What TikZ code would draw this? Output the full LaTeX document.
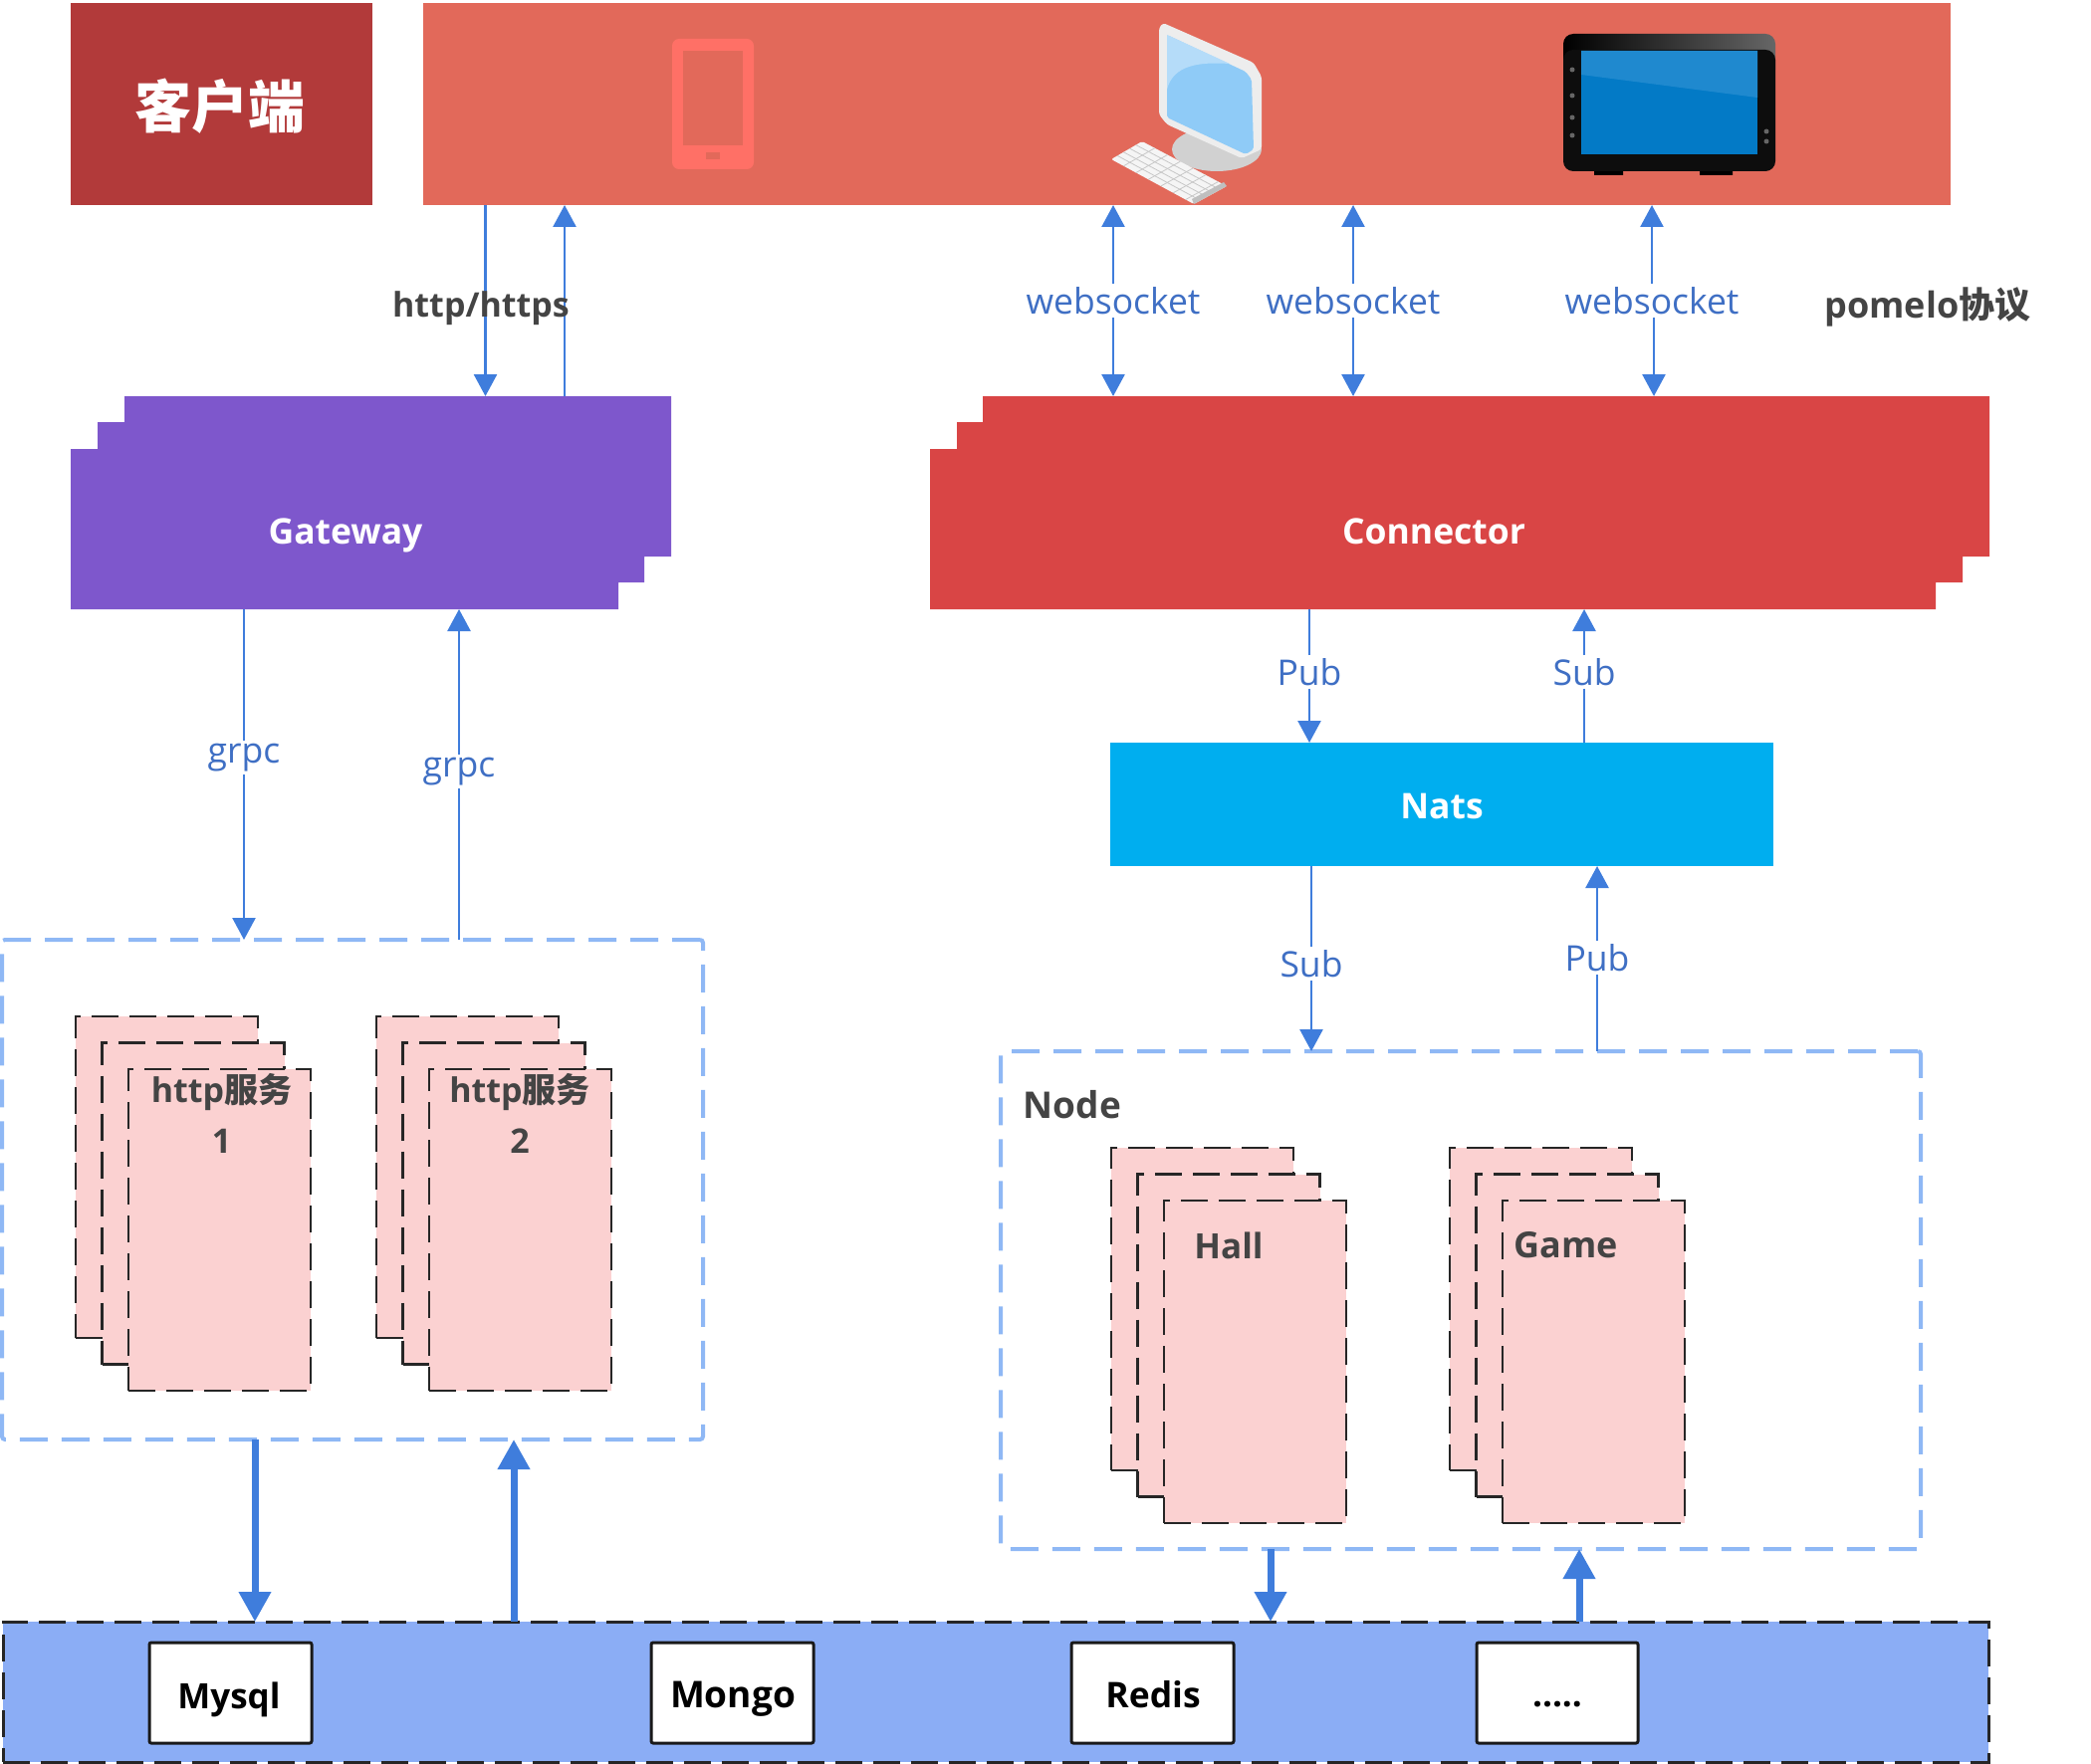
\documentclass[tikz,border=0pt]{standalone}
\usepackage{fontspec}
\setmainfont{Open Sans}
\newfontfamily\cjk{Noto Sans CJK SC}
\usetikzlibrary{arrows.meta,calc}
\definecolor{bluearrow}{HTML}{3F7DDC}
\definecolor{bluedash}{HTML}{8FB8F5}
\definecolor{bluetxt}{HTML}{3F6FC4}
\definecolor{band}{HTML}{8BADF5}
\definecolor{pinkbox}{HTML}{FBD1D1}
\definecolor{clientdark}{HTML}{B23A3A}
\definecolor{clientbar}{HTML}{E2695A}
\definecolor{gatewayc}{HTML}{7E57CC}
\definecolor{connectorc}{HTML}{D94545}
\definecolor{natsc}{HTML}{00AEEF}
\definecolor{darktxt}{HTML}{444444}
\definecolor{phonec}{HTML}{FF7066}
\definecolor{screenlight}{HTML}{8FCBF7}
\definecolor{screentop}{HTML}{B5DCF9}
\definecolor{tabletblue}{HTML}{037AC6}
\definecolor{tabletlight}{HTML}{1F89CF}
\tikzset{
  x=1pt,y=-1pt,
  arr/.style={draw=bluearrow,line width=2.6pt,-{Triangle[length=22pt,width=23pt]}},
  plainline/.style={draw=bluearrow,line width=2.6pt},
  thick arr/.style={draw=bluearrow,line width=7pt,-{Triangle[length=30pt,width=31pt]}},
  blk/.style={rectangle,inner sep=0pt,outer sep=0pt,anchor=north west},
  dashbox/.style={blk,draw=bluedash,line width=4pt,dash pattern=on 28pt off 14pt,rounded corners=3pt},
  sheet/.style={blk,fill=pinkbox,draw=black!85,line width=2.6pt,dash pattern=on 27pt off 11pt},
  store/.style={blk,fill=white,draw=black!90,line width=3pt,rounded corners=2pt},
  lab/.style={fill=white,text=bluetxt,inner sep=3pt,font=\fontsize{35.5}{40}\selectfont},
  dark/.style={text=darktxt,inner sep=0pt,font=\fontsize{#1}{51}\selectfont\bfseries,align=center},
  onfill/.style={text=white,inner sep=0pt,font=\fontsize{35.5}{40}\selectfont\bfseries},
  storetxt/.style={text=black,inner sep=0pt,font=\fontsize{#1}{40}\selectfont\bfseries},
}
\newcommand{\sheetstack}[5]{% name, x, y, w, h
  \node[sheet,minimum width=#4pt,minimum height=#5pt] (#1a) at (#2,#3) {};
  \node[sheet,minimum width=#4pt,minimum height=#5pt] (#1b) at ($(#2,#3)+(26.5,26.5)$) {};
  \node[sheet,minimum width=#4pt,minimum height=#5pt] (#1c) at ($(#2,#3)+(53,53)$) {};
}
\begin{document}
\begin{tikzpicture}
\useasboundingbox (0,0) rectangle (2100,1771);
% client row
\node[blk,fill=clientdark,minimum width=303pt,minimum height=203pt,text=white] (client) at (71,3) {};
\node[text=white,inner sep=0pt,font=\cjk\fontsize{57}{60}\selectfont\bfseries] (clienttxt) at (221,107) {客户端};
\node[blk,fill=clientbar,minimum width=1534pt,minimum height=203pt] (bar) at (425,3) {};
% phone
\fill[phonec,rounded corners=7pt] (675,39) rectangle (757,170);
\fill[clientbar] (686,51) rectangle (746,146);
\fill[clientbar] (709,153) rectangle (723,160);
% monitor
\fill[black!18] (1222,150) ellipse (45 and 22);
\fill[black!7,rounded corners=3pt] (1168,23) -- (1259,63) -- (1267,77) -- (1267,150) -- (1247,159) -- (1172,125) -- (1164,115) -- (1164,28) -- cycle;
\fill[screenlight,rounded corners=2pt] (1172,35) -- (1251,72) -- (1257,80) -- (1259,150) -- (1251,155) -- (1172,118) -- cycle;
\fill[screentop] (1172,35) -- (1235,64) .. controls (1205,62) and (1178,65) .. (1172,90) -- cycle;
\fill[black!4,rounded corners=2pt] (1147,142) -- (1232,187) -- (1199,205) -- (1116,160) -- cycle;
\foreach \tt in {0.2,0.4,0.6,0.8}
  \draw[black!22,line width=0.8pt] ($(1147,142)!\tt!(1116,160)$) -- ($(1232,187)!\tt!(1199,205)$);
\foreach \tt in {0.15,0.3,0.45,0.6,0.75,0.9}
  \draw[black!22,line width=0.8pt] ($(1147,142)!\tt!(1232,187)$) -- ($(1116,160)!\tt!(1199,205)$);
\fill[black!25] (1232,187) -- (1199,205) -- (1197,200) -- (1229,183) -- cycle;
% tablet
\fill[black] (1601,170) rectangle (1630,176) (1707,170) rectangle (1740,176);
\shade[left color=black,right color=black!60,rounded corners=10pt] (1570,34) rectangle (1783,80);
\fill[black!95,rounded corners=10pt] (1570,50) rectangle (1783,172);
\fill[tabletblue] (1588,51) rectangle (1765,155);
\fill[tabletlight] (1588,51) -- (1765,51) -- (1765,98) -- (1588,75) -- cycle;
\foreach \yy in {70,96,118,136} \fill[black!60] (1579,\yy) circle (2.5);
\foreach \yy in {132,142} \fill[black!60] (1774,\yy) circle (2.5);
% gateway and connector stepped shapes
\fill[gatewayc] (125,398) -- (674,398) -- (674,559) -- (647,559) -- (647,585) -- (621,585) -- (621,612) -- (71,612) -- (71,451) -- (98,451) -- (98,424) -- (125,424) -- cycle;
\node[blk,minimum width=603pt,minimum height=214pt] (gw) at (71,398) {};
\node[onfill] (gwtxt) at (347,538) {Gateway};
\fill[connectorc] (987,398) -- (1998,398) -- (1998,559) -- (1971,559) -- (1971,585) -- (1944,585) -- (1944,612) -- (934,612) -- (934,451) -- (961,451) -- (961,424) -- (987,424) -- cycle;
\node[blk,minimum width=1064pt,minimum height=214pt] (conn) at (934,398) {};
\node[onfill] (conntxt) at (1440,534) {Connector};
% nats
\node[blk,fill=natsc,minimum width=666pt,minimum height=124pt] (nats) at (1115,746) {};
\node[onfill] (natstxt) at (1448,810) {Nats};
% dashed groups
\node[dashbox,minimum width=704pt,minimum height=502pt] (httpgrp) at (2,944) {};
\node[dashbox,minimum width=924pt,minimum height=500pt] (nodegrp) at (1005,1056) {};
% sheets
\sheetstack{ha}{76}{1021}{183}{323}
\sheetstack{hb}{378}{1021}{183}{323}
\sheetstack{hall}{1116}{1153}{183}{324}
\sheetstack{game}{1456}{1153}{183}{324}
\node[dark=34] (hatxt) at (222.5,1118) {http{\cjk 服务}\\1};
\node[dark=34] (hbtxt) at (522,1118) {http{\cjk 服务}\\2};
\node[dark=35] (halltxt) at (1234,1251) {Hall};
\node[dark=36] (gametxt) at (1573,1251) {Game};
\node[dark=37] (nodetxt) at (1077,1110) {Node};
% storage band
\node[blk,fill=band,draw=black!85,line width=3pt,dash pattern=on 27pt off 11pt,minimum width=1994pt,minimum height=141pt] (stor) at (3,1629) {};
\node[store,minimum width=163pt,minimum height=101pt] (mysql) at (150,1650) {};
\node[store,minimum width=163pt,minimum height=101pt] (mongo) at (654,1650) {};
\node[store,minimum width=163pt,minimum height=101pt] (redis) at (1076,1650) {};
\node[store,minimum width=162pt,minimum height=101pt] (more) at (1483,1650) {};
\node[storetxt=35] (mysqltxt) at (230,1707) {Mysql};
\node[storetxt=37] (mongotxt) at (736,1707) {Mongo};
\node[storetxt=35.5] (redistxt) at (1158,1702) {Redis};
\node[storetxt=35] (moretxt) at (1564,1712) {.....};
% http arrows
\coordinate (hdown) at (487.5,300);
\coordinate (hup) at (567,300);
\draw[arr] (hdown |- bar.south) -- (hdown |- gw.north);
\draw[arr] (hup |- gw.north) -- (hup |- bar.south);
\node[dark=34] (httptxt) at (483,310) {http/https};
\node[dark=36] (pomelo) at (1936,308) {pomelo{\cjk 协议}};
% websockets
\node[lab] (wsa) at (1118,302) {websocket};
\node[lab] (wsb) at (1359,302) {websocket};
\node[lab] (wsc) at (1659,302) {websocket};
\draw[arr] (wsa.north) -- (wsa.north |- bar.south);
\draw[arr] (wsa.south) -- (wsa.south |- conn.north);
\draw[arr] (wsb.north) -- (wsb.north |- bar.south);
\draw[arr] (wsb.south) -- (wsb.south |- conn.north);
\draw[arr] (wsc.north) -- (wsc.north |- bar.south);
\draw[arr] ([xshift=2pt]wsc.south) -- ([xshift=2pt]wsc.south |- conn.north);
% grpc
\node[lab] (grpca) at (245,761) {grpc};
\node[lab] (grpcb) at (461,775) {grpc};
\draw[plainline] (grpca.north) -- (grpca.north |- gw.south);
\draw[arr] (grpca.south) -- (grpca.south |- httpgrp.north);
\draw[plainline] (grpcb.south) -- (grpcb.south |- httpgrp.north);
\draw[arr] (grpcb.north) -- (grpcb.north |- gw.south);
% pub sub upper
\node[lab] (puba) at (1315,675) {Pub};
\node[lab] (suba) at (1591,675) {Sub};
\draw[plainline] (puba.north) -- (puba.north |- conn.south);
\draw[arr] (puba.south) -- (puba.south |- nats.north);
\draw[plainline] (suba.south) -- (suba.south |- nats.north);
\draw[arr] (suba.north) -- (suba.north |- conn.south);
% pub sub lower
\node[lab] (subb) at (1317,968) {Sub};
\node[lab] (pubb) at (1604,962) {Pub};
\draw[plainline] (subb.north) -- (subb.north |- nats.south);
\draw[arr] (subb.south) -- (subb.south |- nodegrp.north);
\draw[plainline] (pubb.south) -- (pubb.south |- nodegrp.north);
\draw[arr] (pubb.north) -- (pubb.north |- nats.south);
% thick arrows
\coordinate (ta) at (256,1500);
\coordinate (tb) at (516,1500);
\coordinate (tc) at (1276,1590);
\coordinate (td) at (1586,1590);
\draw[thick arr] (ta |- httpgrp.south) -- (ta |- stor.north);
\draw[thick arr] (tb |- stor.north) -- (tb |- httpgrp.south);
\draw[thick arr] (tc |- nodegrp.south) -- (tc |- stor.north);
\draw[thick arr] (td |- stor.north) -- (td |- nodegrp.south);
\end{tikzpicture}
\end{document}
